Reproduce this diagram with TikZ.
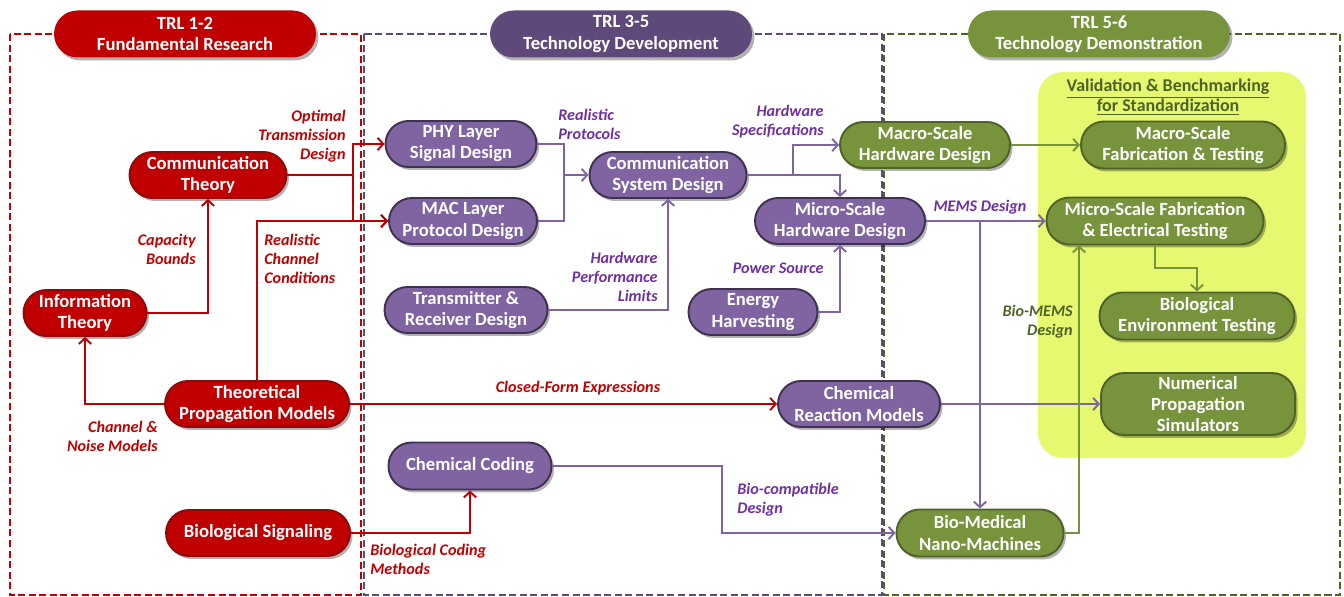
\documentclass[tikz,border=0pt]{standalone}
\usepackage{fontspec}
\setmainfont{Carlito}
\usetikzlibrary{arrows.meta,shadows}
\definecolor{rd}{HTML}{C00000}
\definecolor{rdb}{HTML}{8C0A0A}
\definecolor{pu}{HTML}{8064A2}
\definecolor{pub}{HTML}{3F3151}
\definecolor{hpu}{HTML}{5F497A}
\definecolor{pul}{HTML}{7030A0}
\definecolor{gr}{HTML}{77933C}
\definecolor{grb}{HTML}{4F6228}
\definecolor{yl}{HTML}{E6F86F}
\tikzset{
  box/.style={rectangle, rounded corners=0.46cm, line width=1.1pt, text=white,
    font=\bfseries\fontsize{10.6}{12}\selectfont, align=center, inner sep=0pt,
    drop shadow={shadow xshift=0.05cm, shadow yshift=-0.06cm, opacity=0.3, fill=black}},
  rnode/.style={box, fill=rd, draw=rdb},
  pnode/.style={box, fill=pu, draw=pub},
  gnode/.style={box, fill=gr, draw=grb},
  hdr/.style={box, draw=none, minimum width=5.24cm, minimum height=0.94cm, rounded corners=0.47cm},
  lab/.style={font=\bfseries\itshape\fontsize{9.2}{10.8}\selectfont, inner sep=0pt},
  rlab/.style={lab, text=rd},
  plab/.style={lab, text=pul},
  glab/.style={lab, text=grb},
  conn/.style={line width=1.1pt, >={Straight Barb[length=3.2pt,width=7pt]}},
  rline/.style={conn, draw=rd},
  pline/.style={conn, draw=pu},
  gline/.style={conn, draw=gr},
  zone/.style={line width=0.9pt, dash pattern=on 4pt off 2pt}
}
\begin{document}
\begin{tikzpicture}[x=0.02cm,y=-0.02cm]
\useasboundingbox (0,0) rectangle (1344,597);
% zones
\draw[zone, draw=rd] (10,34) rectangle (361,595);
\draw[zone, draw=hpu] (364,34) rectangle (882,595);
\draw[zone, draw=grb] (884,34) rectangle (1340,595);
% yellow area
\fill[yl, rounded corners=0.5cm] (1038,72) rectangle (1306,458);
\node[font=\bfseries\fontsize{10.2}{11.4}\selectfont, text=grb, align=center, inner sep=0pt] (val) at (1168,97)
  {\underline{Validation \& Benchmarking}\\\underline{for Standardization}};
% headers
\node[hdr, fill=rd] (h1) at (185,34) {TRL 1-2\\Fundamental Research};
\node[hdr, fill=hpu] (h2) at (621,34) {TRL 3-5\\Technology Development};
\node[hdr, fill=gr] (h3) at (1099,34) {TRL 5-6\\Technology Demonstration};
% red nodes
\node[rnode, minimum width=3.14cm, minimum height=0.92cm] (ct) at (208,175) {Communication\\Theory};
\node[rnode, minimum width=2.46cm, minimum height=0.92cm] (it) at (85,313) {Information\\Theory};
\node[rnode, minimum width=3.68cm, minimum height=0.92cm] (tpm) at (257,404) {Theoretical\\Propagation Models};
\node[rnode, minimum width=3.68cm, minimum height=0.92cm] (bs) at (258,533) {Biological Signaling};
% purple nodes
\node[pnode, minimum width=3.02cm, minimum height=0.92cm] (phy) at (461,144) {PHY Layer\\Signal Design};
\node[pnode, minimum width=2.96cm, minimum height=0.92cm] (mac) at (463,221) {MAC Layer\\Protocol Design};
\node[pnode, minimum width=3.26cm, minimum height=0.92cm] (tx) at (466,310) {Transmitter \&\\Receiver Design};
\node[pnode, minimum width=3.14cm, minimum height=0.92cm] (cs) at (668,175) {Communication\\System Design};
\node[pnode, minimum width=3.40cm, minimum height=0.92cm] (mihw) at (840,221) {Micro-Scale\\Hardware Design};
\node[pnode, minimum width=2.58cm, minimum height=0.92cm] (eh) at (753,312) {Energy\\Harvesting};
\node[pnode, minimum width=3.24cm, minimum height=0.92cm] (cr) at (859,404) {Chemical\\Reaction Models};
\node[pnode, minimum width=3.26cm, minimum height=0.94cm] (cc) at (470,466) {Chemical Coding};
% green nodes
\node[gnode, minimum width=3.40cm, minimum height=0.92cm] (mahw) at (925,145) {Macro-Scale\\Hardware Design};
\node[gnode, minimum width=4.08cm, minimum height=0.94cm] (mafab) at (1183,145) {Macro-Scale\\Fabrication \& Testing};
\node[gnode, minimum width=4.34cm, minimum height=0.94cm] (mifab) at (1155,221) {Micro-Scale Fabrication\\\& Electrical Testing};
\node[gnode, minimum width=3.90cm, minimum height=0.94cm] (be) at (1197,316) {Biological\\Environment Testing};
\node[gnode, minimum width=3.88cm, minimum height=1.24cm] (num) at (1198,404) {Numerical\\Propagation\\Simulators};
\node[gnode, minimum width=3.34cm, minimum height=0.94cm] (bm) at (980,533) {Bio-Medical\\Nano-Machines};
% junction coordinates
\coordinate (j1) at (353,175);
\coordinate (j2) at (564,175);
\coordinate (j3) at (793,175);
\coordinate (j4) at (980,221);
\coordinate (j5) at (722,466);
\coordinate (j6) at (1155,268);
\coordinate (b1) at (1079,0);
% red connectors
\draw[rline,->] (ct.east) -- (j1) |- (phy.west);
\draw[rline,->] (j1) |- (mac.west);
\draw[rline,->] (tpm.north) |- (mac.west);
\draw[rline,->] (it.east) -| (ct.south);
\draw[rline,->] (tpm.west) -| (it.south);
\draw[rline,->] (tpm.east) -- (cr.west);
\draw[rline,->] (bs.east) -| (cc.south);
% purple connectors
\draw[pline,->] (phy.east) -| (j2) -- (cs.west);
\draw[pline] (mac.east) -| (j2);
\draw[pline,->] (tx.east) -| (cs.south);
\draw[pline,->] (cs.east) -- (j3) |- (mahw.west);
\draw[pline,->] (cs.east) -| (mihw.north);
\draw[pline,->] (eh.east) -| (mihw.south);
\draw[pline,->] (mihw.east) -- (mifab.west);
\draw[pline,->] (j4) -- (bm.north);
\draw[pline,->] (cr.east) -- (num.west);
\draw[pline,->] (cc.east) -- (j5) |- (bm.west);
% green connectors
\draw[gline,->] (mahw.east) -- (mafab.west);
\draw[gline,->] (mifab.south) -- (j6) -| (be.north);
\draw[gline,->] (bm.east) -| (b1 |- mifab.south);
% labels
\node[rlab, align=right, anchor=east] (l1) at (346,136) {Optimal\\Transmission\\Design};
\node[rlab, align=right, anchor=east] (l2) at (196,249) {Capacity\\Bounds};
\node[rlab, align=left, anchor=west] (l3) at (264,259) {Realistic\\Channel\\Conditions};
\node[rlab, align=right, anchor=east] (l4) at (158,436) {Channel \&\\Noise Models};
\node[rlab] (l5) at (578,388) {Closed-Form Expressions};
\node[rlab, align=left, anchor=west] (l6) at (370,559) {Biological Coding\\Methods};
\node[plab, align=left, anchor=west] (l7) at (558,124) {Realistic\\Protocols};
\node[plab, align=right, anchor=east] (l8) at (658,277) {Hardware\\Performance\\Limits};
\node[plab, align=right, anchor=east] (l9) at (824,122) {Hardware\\Specifications};
\node[plab, anchor=east] (l10) at (824,268) {Power Source};
\node[plab] (l11) at (980,207) {MEMS Design};
\node[plab, align=left, anchor=west] (l12) at (737,500) {Bio-compatible\\Design};
\node[glab, align=right, anchor=east] (l13) at (1073,322) {Bio-MEMS\\Design};
\end{tikzpicture}
\end{document}
